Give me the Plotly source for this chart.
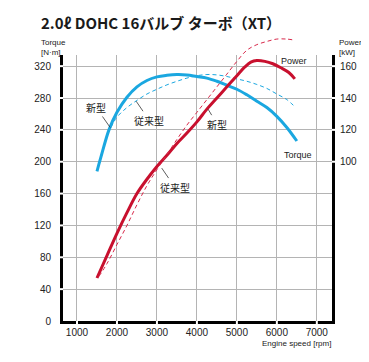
import plotly.graph_objects as go

# ---- data ----
rpm_new_torque = [1500, 1600, 1800, 2000, 2250, 2500, 2750, 3000, 3250, 3500, 3750, 4000,
                  4250, 4500, 4750, 5000, 5250, 5500, 5750, 6000, 6250, 6500]
new_torque = [188, 206, 240, 262, 281, 294, 302, 306.5, 308.5, 309.5, 309, 307,
              305, 301, 296, 291, 284, 276, 268, 257, 243, 226]

rpm_old_torque = [1850, 2000, 2250, 2500, 2750, 3000, 3250, 3500, 3750, 4000, 4250, 4500,
                  4750, 5000, 5250, 5500, 5750, 6000, 6250, 6450]
old_torque = [243, 256, 268, 277, 285, 291, 296.5, 301, 305, 308, 309.5, 309,
              307, 304, 301, 297, 292, 285, 278, 269]

rpm_new_power = [1500, 1750, 2000, 2250, 2500, 2750, 3000, 3250, 3500, 3750, 4000, 4250,
                 4500, 4750, 5000, 5200, 5350, 5500, 5700, 5900, 6100, 6300, 6450]
new_power = [27, 41, 55, 68, 80, 89, 97, 104, 111.5, 118, 125, 133,
             140, 147, 154, 159.5, 162.5, 163.5, 163, 161.5, 159, 156, 152]

rpm_old_power = [1550, 1750, 2000, 2250, 2500, 2750, 3000, 3250, 3500, 3750, 4000, 4250,
                 4500, 4750, 5000, 5250, 5500, 5750, 6000, 6250, 6400]
old_power = [28, 36, 48, 60, 73, 85, 95, 104.5, 114, 123, 131, 139,
             147, 155, 163, 170, 173.5, 175.5, 177, 177, 176.5]

x_ticks = [1000, 2000, 3000, 4000, 5000, 6000, 7000]
torque_ticks = [0, 40, 80, 120, 160, 200, 240, 280, 320]
power_ticks = [100, 120, 140, 160]

BLUE = "#1aa7e0"
RED = "#c8102e"
RED_D = "#d8284a"
GRID = "#b4b4b4"
TXT = "#222222"
FONT = "Liberation Sans, Arial, sans-serif"
JP = "Noto Sans CJK JP"

# geometry (figure pixels; the page adds an 8px body margin)
OFF = 8
W, H = 353, 346
ML, MR, MT, MB = 55, 29, 28, 33
PLOT_W = W - ML - MR
PLOT_H = H - MT - MB
MAIN_TOP = 266 / PLOT_H         # main frame top (leaves room for the overflowing curve)
X_RANGE = [650, 7380]
T_MAX = 334
P_MAX = 167

fig = go.Figure()
fig.add_trace(go.Scatter(x=rpm_old_torque, y=old_torque, mode="lines",
                         line=dict(color=BLUE, width=1, dash="4px,3px", shape="spline"),
                         xaxis="x", yaxis="y", hoverinfo="skip"))
fig.add_trace(go.Scatter(x=rpm_new_torque, y=new_torque, mode="lines",
                         line=dict(color=BLUE, width=3, shape="spline"),
                         xaxis="x", yaxis="y", hoverinfo="skip"))
fig.add_trace(go.Scatter(x=rpm_old_power, y=old_power, mode="lines",
                         line=dict(color=RED_D, width=1, dash="4px,3px", shape="spline"),
                         xaxis="x2", yaxis="y3", hoverinfo="skip"))
fig.add_trace(go.Scatter(x=rpm_new_power, y=new_power, mode="lines",
                         line=dict(color=RED, width=3, shape="spline"),
                         xaxis="x", yaxis="y2", hoverinfo="skip"))

fig.update_layout(
    width=W, height=H,
    margin=dict(l=ML, r=MR, t=MT, b=MB, autoexpand=False),
    paper_bgcolor="white", plot_bgcolor="rgba(0,0,0,0)",
    showlegend=False,
    font=dict(family=FONT, size=10, color=TXT),
    xaxis=dict(domain=[0, 1], anchor="y", range=X_RANGE, tickvals=x_ticks,
               ticktext=[str(v) for v in x_ticks],
               showgrid=True, gridcolor=GRID, gridwidth=1, zeroline=False,
               showline=True, linecolor="black", linewidth=3, ticks="",
               tickfont=dict(size=10, color=TXT, family=FONT)),
    yaxis=dict(domain=[0, MAIN_TOP], anchor="x", range=[0, T_MAX], tickvals=torque_ticks,
               ticktext=[str(v) for v in torque_ticks],
               showgrid=True, gridcolor=GRID, gridwidth=1, zeroline=False,
               showline=True, linecolor="black", linewidth=3,
               ticks="outside", ticklen=7, tickwidth=2, tickcolor="white",
               tickfont=dict(size=10, color=TXT, family=FONT)),
    yaxis2=dict(range=[0, P_MAX], overlaying="y", side="right", anchor="x",
                tickvals=power_ticks, ticktext=[str(v) for v in power_ticks],
                showgrid=False, zeroline=False,
                showline=True, linecolor="black", linewidth=3,
                ticks="outside", ticklen=3, tickwidth=2, tickcolor="white",
                tickfont=dict(size=10, color=TXT, family=FONT)),
    xaxis2=dict(domain=[0, 1], anchor="y3", range=X_RANGE, visible=False,
                showgrid=False, zeroline=False),
    yaxis3=dict(domain=[0, 1], anchor="x2", range=[0, P_MAX / MAIN_TOP], visible=False,
                showgrid=False, zeroline=False),
)

# white notches through the thick axis lines at the tick positions
NOTCH = 5
shapes = []
for t in torque_ticks[1:]:
    shapes.append(dict(type="line", xref="paper", yref="y", x0=-NOTCH / PLOT_W, x1=0,
                       y0=t, y1=t, line=dict(color="white", width=2), layer="above"))
for p in power_ticks:
    shapes.append(dict(type="line", xref="paper", yref="y2", x0=1, x1=1 + NOTCH / PLOT_W,
                       y0=p, y1=p, line=dict(color="white", width=2), layer="above"))
for v in x_ticks:
    shapes.append(dict(type="line", xref="x", yref="paper", x0=v, x1=v,
                       y0=-NOTCH / PLOT_H, y1=0, line=dict(color="white", width=2),
                       layer="above"))
fig.update_layout(shapes=shapes)


def px_x(px):
    return (px - OFF - ML) / PLOT_W


def px_y(py):
    return (H - MB - (py - OFF)) / PLOT_H


annotations = [
    dict(text="<b>2.0ℓ DOHC 16バルブ ターボ（XT）</b>", xref="paper", yref="paper",
         x=px_x(39), y=px_y(22.5), xanchor="left", yanchor="middle", showarrow=False,
         font=dict(size=15, color="#1a1a1a", family=JP)),
    dict(text="Torque<br>[N·m]", xref="paper", yref="paper", x=px_x(39), y=px_y(47.5),
         xanchor="left", yanchor="middle", align="left", showarrow=False,
         font=dict(size=8, color=TXT, family=FONT)),
    dict(text="Power<br>[kW]", xref="paper", yref="paper", x=px_x(337), y=px_y(47.5),
         xanchor="left", yanchor="middle", align="left", showarrow=False,
         font=dict(size=8, color=TXT, family=FONT)),
    dict(text="Engine speed [rpm]", xref="paper", yref="paper", x=px_x(333), y=px_y(343),
         xanchor="right", yanchor="middle", showarrow=False,
         font=dict(size=8, color=TXT, family=FONT)),
    dict(text="Power", x=6050, y=163, xref="x", yref="y2", xanchor="left",
         showarrow=False, font=dict(size=9, color=TXT, family=FONT)),
    dict(text="Torque", x=6120, y=209, xref="x", yref="y", xanchor="left",
         showarrow=False, font=dict(size=9, color=TXT, family=FONT)),
    # pointer labels
    dict(text="新型", x=1830, y=243, xref="x", yref="y", ax=-14, ay=-20,
         showarrow=True, arrowhead=0, arrowwidth=0.8, arrowcolor="#333",
         font=dict(size=10, color=TXT, family=JP)),
    dict(text="従来型", x=2480, y=276, xref="x", yref="y", ax=13, ay=19,
         showarrow=True, arrowhead=0, arrowwidth=0.8, arrowcolor="#333",
         font=dict(size=10, color=TXT, family=JP)),
    dict(text="新型", x=4280, y=133, xref="x", yref="y2", ax=9, ay=15,
         showarrow=True, arrowhead=0, arrowwidth=0.8, arrowcolor="#333",
         font=dict(size=10, color=TXT, family=JP)),
    dict(text="従来型", x=3120, y=96, xref="x", yref="y2", ax=13, ay=19,
         showarrow=True, arrowhead=0, arrowwidth=0.8, arrowcolor="#333",
         font=dict(size=10, color=TXT, family=JP)),
]
fig.update_layout(annotations=annotations)

fig.write_html("out.html")
